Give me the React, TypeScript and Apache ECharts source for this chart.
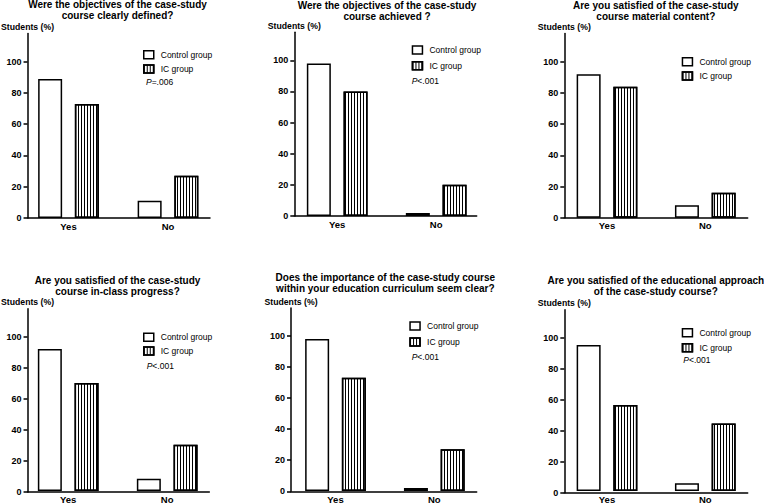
import React, { useEffect, useRef } from 'react';
import * as echarts from 'echarts';

const categories = ['Yes', 'No'];
const seriesNames = ['Control group', 'IC group'];
const yTickValues = [0, 20, 40, 60, 80, 100];
const yMax = 118;

const titles = [
  'Were the objectives of the case-study\ncourse clearly defined?',
  'Were the objectives of the case-study\ncourse achieved ?',
  'Are you satisfied of the case-study\ncourse material content?',
  'Are you satisfied of the case-study\ncourse in-class progress?',
  'Does the importance of the case-study course\nwithin your education curriculum seem clear?',
  'Are you satisfied of the educational approach\nof the case-study course?',
];

const controlGroup = [
  [89, 11],
  [98, 2],
  [92, 8],
  [92, 8],
  [98, 2],
  [95, 5],
];
const icGroup = [
  [73, 27],
  [80, 20],
  [84, 16],
  [70, 30],
  [73, 27],
  [56, 44],
];
const pValues = ['=.006', '<.001', '', '<.001', '<.001', '<.001'];

const layout = [
  { axisX: 25, axisEnd: 210, zero: 218, y100: 61.7, yesC: 68.5, noC: 168, titleX: 117.5, titleY: -0.9, legX: 143, legY1: 54.7, legY2: 69, pX: 146, pY: 82 },
  { axisX: 294.3, axisEnd: 476.7, zero: 216, y100: 60.3, yesC: 337.2, noC: 436.2, titleX: 387, titleY: -0.4, legX: 411.7, legY1: 50, legY2: 65.7, pX: 411.7, pY: 81 },
  { axisX: 564.3, axisEnd: 747.7, zero: 217.7, y100: 61.7, yesC: 607, noC: 705.3, titleX: 655.8, titleY: -0.4, legX: 681.7, legY1: 61.7, legY2: 76, pX: 0, pY: 0 },
  { axisX: 25, axisEnd: 209.3, zero: 492, y100: 336.7, yesC: 68.2, noC: 167.2, titleX: 117.5, titleY: 274.6, legX: 143, legY1: 337.3, legY2: 351, pX: 146.7, pY: 365.7 },
  { axisX: 291, axisEnd: 476.7, zero: 491.3, y100: 336, yesC: 335.5, noC: 434.3, titleX: 385.3, titleY: 271.6, legX: 409.3, legY1: 326, legY2: 342, pX: 411.7, pY: 357.3 },
  { axisX: 564.3, axisEnd: 747.7, zero: 492.7, y100: 337.7, yesC: 607, noC: 705.3, titleX: 655.8, titleY: 274.6, legX: 681.7, legY1: 332.7, legY2: 347.7, pX: 683.3, pY: 360 },
];

const fontFamily = '"Liberation Sans", Arial, sans-serif';

function buildOption() {
  const grid: any[] = [];
  const xAxis: any[] = [];
  const yAxis: any[] = [];
  const series: any[] = [];
  const legend: any[] = [];
  const graphic: any[] = [];

  layout.forEach((L, p) => {
    const top = L.zero - ((L.zero - L.y100) * yMax) / 100;
    const height = L.zero - top;
    const spacing = L.noC - L.yesC;
    const gA = 2 * p;
    const gB = 2 * p + 1;
    grid.push({ left: L.axisX, top, width: L.axisEnd - L.axisX, height });
    grid.push({ left: L.yesC - spacing / 2, top, width: spacing * 2, height });

    xAxis.push({
      type: 'value', gridIndex: gA, min: 0, max: 1,
      axisLine: { show: true, lineStyle: { color: '#000', width: 1.5 } },
      axisTick: { show: false }, axisLabel: { show: false }, splitLine: { show: false },
    });
    xAxis.push({
      type: 'category', gridIndex: gB, data: categories,
      axisLine: { show: false }, axisTick: { show: false }, splitLine: { show: false },
      axisLabel: { color: '#000', fontWeight: 'bold', fontSize: 9.5, fontFamily, margin: 3 },
    });
    yAxis.push({
      type: 'value', gridIndex: gA, min: 0, max: yMax,
      name: 'Students (%)', nameLocation: 'end', nameGap: 2,
      nameTextStyle: { color: '#000', fontWeight: 'bold', fontSize: 8.7, fontFamily, align: 'center' },
      axisLine: { show: true, lineStyle: { color: '#000', width: 1.5 } },
      axisTick: { show: true, length: 4, lineStyle: { color: '#000', width: 1.5 }, customValues: yTickValues },
      axisLabel: { color: '#000', fontWeight: 'bold', fontSize: 9, fontFamily, margin: 6, customValues: yTickValues },
      splitLine: { show: false },
    });
    yAxis.push({ type: 'value', gridIndex: gB, min: 0, max: yMax, show: false });

    series.push({
      type: 'bar', name: seriesNames[0], xAxisIndex: gB, yAxisIndex: gB, data: controlGroup[p],
      barWidth: 24, barGap: '53%',
      itemStyle: { color: '#fff', borderColor: '#000', borderWidth: 1.5 },
    });
    series.push({
      type: 'bar', name: seriesNames[1], xAxisIndex: gB, yAxisIndex: gB, data: icGroup[p],
      barWidth: 24, barGap: '53%',
      itemStyle: {
        color: '#fff', borderColor: '#000', borderWidth: 1.5,
        decal: { symbol: 'rect', symbolSize: 1, dashArrayX: [1, 2], dashArrayY: [1, 0], rotation: 0, color: '#000' },
      },
    });

    legend.push({
      orient: 'vertical', left: L.legX, top: L.legY1 - 5, padding: 0,
      itemWidth: 10, itemHeight: 8, itemGap: L.legY2 - L.legY1 - 10,
      selectedMode: false, data: seriesNames, icon: 'rect',
      itemStyle: { borderWidth: 1.5 },
      textStyle: { color: '#000', fontSize: 8.5, fontFamily, lineHeight: 10, padding: [0, 0, 0, 2] },
    });

    graphic.push({
      type: 'text', x: L.titleX, y: L.titleY,
      style: {
        text: titles[p], fill: '#000', fontSize: 10, fontWeight: 'bold', fontFamily,
        textAlign: 'center', textVerticalAlign: 'top', lineHeight: 11,
      },
    });
    if (pValues[p]) {
      graphic.push({
        type: 'text', x: L.pX, y: L.pY,
        style: {
          text: '{i|P}' + pValues[p], fill: '#000', fontSize: 8.5, fontFamily,
          textAlign: 'left', textVerticalAlign: 'middle',
          rich: { i: { fontStyle: 'italic', fontSize: 8.5, fontFamily, fill: '#000' } },
        },
      });
    }
  });

  return { animation: false, backgroundColor: '#fff', grid, xAxis, yAxis, series, legend, graphic };
}

export default function App() {
  const ref = useRef<HTMLDivElement>(null);
  useEffect(() => {
    document.body.style.margin = '0';
    const chart = echarts.init(ref.current!, null, { renderer: 'svg' });
    chart.setOption(buildOption() as any);
    return () => chart.dispose();
  }, []);
  return <div ref={ref} style={{ width: 764, height: 504 }} />;
}
